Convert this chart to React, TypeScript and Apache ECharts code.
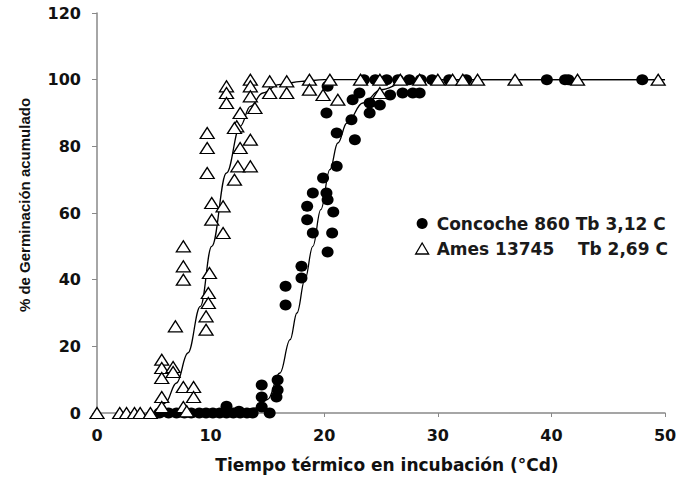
import React, { useEffect, useRef } from "react";
import * as echarts from "echarts";

const xTicks = [0, 10, 20, 30, 40, 50];
const yTicks = [0, 20, 40, 60, 80, 100, 120];

const concocheName = "Concoche 860 Tb 3,12 C";
const amesName = "Ames 13745    Tb 2,69 C";

// Observed points (x: °Cd, y: %)
const concochePoints: [number, number][] = [
  [5.5, 0], [6.3, 0], [7, 0], [7.7, 0], [8.3, 0], [9, 0], [9.6, 0], [10.2, 0], [10.8, 0],
  [11.4, 0], [12, 0], [12.6, 0], [13.2, 0], [13.7, 0], [11.4, 2], [12.5, 0.5], [15.2, 0],
  [14.5, 8.4], [14.5, 4.8], [15.9, 9.9], [15.9, 6.9], [15.8, 4.8], [14.5, 1.8],
  [16.6, 32.4], [16.6, 38], [18.0, 44], [18.0, 40.5], [18.5, 62], [18.5, 58], [19.0, 54],
  [19.0, 66], [19.9, 70.5], [20.2, 66], [20.3, 64], [20.8, 60.3], [20.7, 54], [20.3, 48.3],
  [21.1, 74], [21.1, 84], [22.7, 82], [22.4, 88], [20.2, 90], [22.5, 94], [20.3, 98],
  [24.0, 93], [24.0, 90], [24.9, 92.4], [25.8, 95.4], [26.9, 96], [27.8, 96], [28.4, 96], [23.1, 96],
  [23.5, 100], [24.5, 100], [25.5, 100], [26.5, 100], [27.5, 100], [28.5, 100], [29.5, 100],
  [31, 100], [32.5, 100], [39.6, 100], [41.2, 100], [41.5, 100], [48.0, 100],
];

const amesPoints: [number, number][] = [
  [0, 0], [2.0, 0], [2.6, 0], [3.3, 0], [3.8, 0], [4.7, 0],
  [5.7, 16], [5.7, 13.5], [5.7, 10.5], [5.7, 4.8], [5.7, 1.8], [6.7, 13.8], [6.7, 12.3],
  [6.9, 26], [7.6, 7.8], [8.5, 7.8], [8.5, 4.8], [7.6, 1.8], [7.9, 0.5],
  [7.6, 50], [7.6, 44], [7.6, 40], [9.8, 36], [9.8, 33], [9.9, 42], [9.6, 29], [9.6, 25],
  [10.1, 63], [11.1, 62], [10.1, 58], [11.1, 54], [9.7, 72], [9.7, 79.5], [9.7, 84],
  [12.1, 70], [12.4, 74], [13.5, 74], [12.6, 79.5], [13.5, 82], [12.3, 86], [12.1, 85.5],
  [12.6, 90], [13.9, 91.5],
  [11.4, 98], [11.4, 96], [11.4, 93], [13.5, 100], [13.5, 98], [13.5, 95], [15.2, 99.5],
  [15.2, 96], [16.7, 99.5], [16.7, 96], [18.7, 100], [18.7, 97], [20.5, 100], [19.9, 95.4],
  [21.2, 94], [23.2, 100], [24.9, 100], [24.9, 96], [26.7, 100], [28.4, 100], [30.0, 100],
  [31.3, 100], [32.2, 100], [33.5, 100], [36.8, 100], [42.3, 100], [49.4, 100],
];

// Fitted curves
const concocheCurve: [number, number][] = [
  [13, 0], [14, 1.5], [15, 4], [16.1, 12], [17, 22], [17.6, 30], [18.3, 40], [19, 50],
  [19.7, 61], [20.5, 73], [21.2, 81], [22, 87], [23.4, 93], [25, 97], [27, 99], [30, 100], [50, 100],
];

const amesCurve: [number, number][] = [
  [5.5, 0], [6, 3], [7, 9], [8, 18], [9.1, 32], [10.1, 50], [11.4, 72], [12.6, 86],
  [13.5, 92], [14.6, 96], [16, 98.5], [18, 99.5], [20, 100], [50, 100],
];

export default function App() {
  const ref = useRef<HTMLDivElement>(null);
  useEffect(() => {
    if (!ref.current) return;
    const chart = echarts.init(ref.current, null, { renderer: "svg" });
    const wide = "'DejaVu Sans', Verdana, sans-serif";
    const arial = "'Liberation Sans', Arial, sans-serif";
    chart.setOption({
      animation: false,
      backgroundColor: "#ffffff",
      grid: { left: 97, right: 18, top: 13, bottom: 65, containLabel: false },
      legend: {
        data: [
          { name: concocheName, icon: "circle", itemStyle: { color: "#000", borderColor: "#000", opacity: 1 } },
          { name: amesName, icon: "triangle", itemStyle: { color: "#fff", borderColor: "#000", borderWidth: 1.3, opacity: 1 } },
        ],
        orient: "vertical",
        left: 410,
        top: 210,
        itemWidth: 13,
        itemHeight: 11,
        itemGap: 8,
        textStyle: { fontFamily: wide, fontSize: 17, fontWeight: "bold", color: "#1a1a1a", padding: [0, 0, 0, 3] },
      },
      xAxis: {
        type: "value",
        min: 0,
        max: 50,
        interval: 10,
        name: "Tiempo térmico en incubación (°Cd)",
        nameLocation: "middle",
        nameGap: 43,
        nameTextStyle: { fontFamily: wide, fontSize: 17, fontWeight: "bold", color: "#111", padding: [0, 0, 0, 12] },
        axisLine: { show: true, lineStyle: { color: "#888", width: 1.5 } },
        axisTick: { show: true, inside: false, length: 4, lineStyle: { color: "#888" } },
        axisLabel: {
          fontFamily: wide, fontSize: 16, fontWeight: "bold", color: "#111", margin: 14,
          formatter: (v: number) => (xTicks.includes(v) ? String(v) : ""),
        },
        splitLine: { show: false },
      },
      yAxis: {
        type: "value",
        min: 0,
        max: 120,
        interval: 20,
        name: "% de Germinación acumulado",
        nameLocation: "middle",
        nameGap: 65,
        nameRotate: 90,
        nameTextStyle: { fontFamily: arial, fontSize: 15, fontWeight: "bold", color: "#111", padding: [0, 0, 0, 16] },
        axisLine: { show: true, lineStyle: { color: "#888", width: 1.5 } },
        axisTick: { show: true, inside: false, length: 5, lineStyle: { color: "#888" } },
        axisLabel: {
          fontFamily: wide, fontSize: 16, fontWeight: "bold", color: "#111", margin: 16,
          formatter: (v: number) => (yTicks.includes(v) ? String(v) : ""),
        },
        splitLine: { show: false },
      },
      series: [
        {
          name: "concocheFit",
          type: "line",
          data: concocheCurve,
          showSymbol: false,
          smooth: 0.4,
          smoothMonotone: "x",
          lineStyle: { color: "#000", width: 1.3 },
          z: 1,
          silent: true,
        },
        {
          name: "amesFit",
          type: "line",
          data: amesCurve,
          showSymbol: false,
          smooth: 0.4,
          smoothMonotone: "x",
          lineStyle: { color: "#000", width: 1.3 },
          z: 1,
          silent: true,
        },
        {
          name: concocheName,
          type: "scatter",
          data: concochePoints,
          symbol: "circle",
          symbolSize: [12, 11],
          itemStyle: { color: "#000", opacity: 1 },
          z: 3,
        },
        {
          name: amesName,
          type: "scatter",
          data: amesPoints,
          symbol: "triangle",
          symbolSize: [14, 11],
          itemStyle: { color: "#fff", borderColor: "#000", borderWidth: 1.3, opacity: 1 },
          z: 4,
        },
      ],
    });
    return () => chart.dispose();
  }, []);
  return (
    <div
      ref={ref}
      style={{ position: "absolute", left: 0, top: 0, width: 683, height: 478 }}
    />
  );
}
